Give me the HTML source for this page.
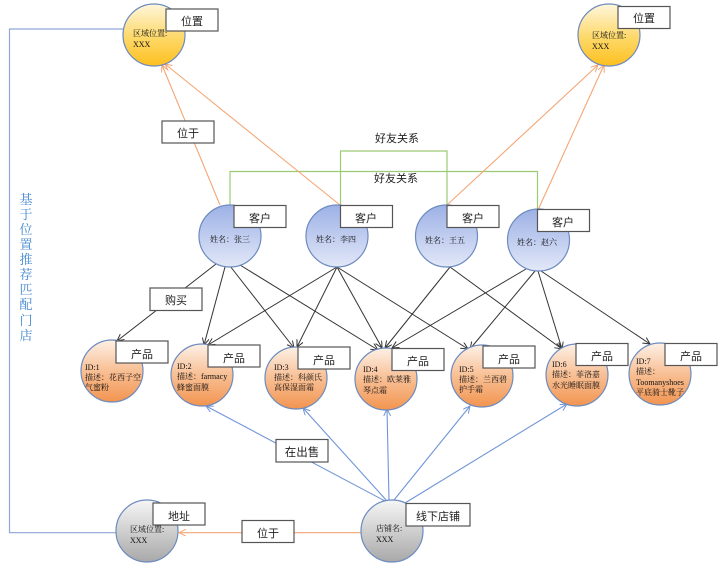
<!DOCTYPE html>
<html><head><meta charset="utf-8"><style>
html,body{margin:0;padding:0;background:#fff}
svg{display:block;filter:blur(.3px)}
text{font-family:"Liberation Serif","Noto Serif CJK SC",serif;fill:#111}
.l{font-size:11px;text-anchor:middle;font-family:"Liberation Sans","Noto Sans CJK SC",sans-serif;fill:#222}
.n{font-size:8px}
rect{fill:#fff;stroke:#555;stroke-width:1.2}
circle{stroke:#6d8bbf;stroke-width:1.2}
.k line{stroke:#333;stroke-width:1;fill:none}
.o line{stroke:#f4a675;stroke-width:1.100}
.b line{stroke:#7095d8;stroke-width:1.100}
.v{font-size:13px;text-anchor:middle;font-family:"Noto Serif CJK SC",serif;fill:#3f86cf}
</style></head><body>
<svg width="720" height="569" viewBox="0 0 720 569" xmlns="http://www.w3.org/2000/svg">
<defs>
<linearGradient id="y" x1="0" y1="0" x2="0" y2="1"><stop offset="0" stop-color="#fff6dc"/><stop offset=".55" stop-color="#fdd868"/><stop offset="1" stop-color="#fdbf1f"/></linearGradient>
<linearGradient id="u" x1="0" y1="0" x2="0" y2="1"><stop offset="0" stop-color="#9db1e6"/><stop offset="1" stop-color="#e2e8f8"/></linearGradient>
<linearGradient id="p" x1="0" y1="0" x2="0" y2="1"><stop offset="0" stop-color="#fdf0e6"/><stop offset=".5" stop-color="#f8bf94"/><stop offset="1" stop-color="#f29450"/></linearGradient>
<linearGradient id="g" x1="0" y1="0" x2="0" y2="1"><stop offset="0" stop-color="#f6f6f6"/><stop offset="1" stop-color="#a8a8a8"/></linearGradient>
<marker id="ak" markerWidth="8" markerHeight="8" refX="7" refY="3.5" orient="auto" markerUnits="userSpaceOnUse"><path d="M0 0L7 3.5L0 7" fill="none" stroke="#333" stroke-width="1"/></marker>
<marker id="ao" markerWidth="8" markerHeight="8" refX="7" refY="3.5" orient="auto" markerUnits="userSpaceOnUse"><path d="M0 0L7 3.5L0 7" fill="none" stroke="#f4a675" stroke-width="1"/></marker>
<marker id="ab" markerWidth="8" markerHeight="8" refX="7" refY="3.5" orient="auto" markerUnits="userSpaceOnUse"><path d="M0 0L7 3.5L0 7" fill="none" stroke="#7095d8" stroke-width="1"/></marker>
</defs>

<path d="M123 29H9.500V532.700H116" fill="none" stroke="#8ea8d8" stroke-width="1.200"/>
<path d="M230 205V171.500H537.500V210" fill="none" stroke="#9dcb74" stroke-width="1.200"/>
<path d="M340.500 205V151H447V205" fill="none" stroke="#9dcb74" stroke-width="1.200"/>

<g class="o">
<line x1="220" y1="205" x2="162" y2="65" marker-end="url(#ao)"/>
<line x1="340" y1="205" x2="165" y2="64" marker-end="url(#ao)"/>
<line x1="447" y1="205" x2="598" y2="65" marker-end="url(#ao)"/>
<line x1="538" y1="210" x2="604" y2="65" marker-end="url(#ao)"/>
<line x1="361" y1="532.700" x2="179" y2="532.700" stroke-width="1.600" marker-end="url(#ao)"/>
</g>

<g class="k">
<line x1="216" y1="264" x2="117" y2="341" marker-end="url(#ak)"/>
<line x1="225" y1="267" x2="204" y2="345" marker-end="url(#ak)"/>
<line x1="230" y1="266" x2="294" y2="348" marker-end="url(#ak)"/>
<line x1="240" y1="265" x2="378" y2="350" marker-end="url(#ak)"/>
<line x1="337" y1="267" x2="208" y2="345" marker-end="url(#ak)"/>
<line x1="337" y1="267" x2="297" y2="347" marker-end="url(#ak)"/>
<line x1="337" y1="267" x2="382" y2="348" marker-end="url(#ak)"/>
<line x1="337" y1="267" x2="468" y2="349" marker-end="url(#ak)"/>
<line x1="450" y1="267" x2="385" y2="348" marker-end="url(#ak)"/>
<line x1="450" y1="267" x2="562" y2="349" marker-end="url(#ak)"/>
<line x1="526" y1="269" x2="392" y2="348" marker-end="url(#ak)"/>
<line x1="535" y1="271" x2="470" y2="349" marker-end="url(#ak)"/>
<line x1="538" y1="271" x2="562" y2="349" marker-end="url(#ak)"/>
<line x1="541" y1="271" x2="650" y2="344" marker-end="url(#ak)"/>
</g>

<g class="b">
<line x1="385" y1="501" x2="206" y2="406" marker-end="url(#ab)"/>
<line x1="387" y1="501" x2="303" y2="408" marker-end="url(#ab)"/>
<line x1="389" y1="500" x2="387" y2="409" marker-end="url(#ab)"/>
<line x1="394" y1="500" x2="470" y2="406" marker-end="url(#ab)"/>
<line x1="405" y1="503" x2="567" y2="404" marker-end="url(#ab)"/>
</g>

<circle cx="154" cy="35" r="31" fill="url(#y)"/>
<circle cx="609" cy="35" r="31" fill="url(#y)"/>
<circle cx="230" cy="236" r="31" fill="url(#u)"/>
<circle cx="337" cy="236" r="31" fill="url(#u)"/>
<circle cx="446.500" cy="236" r="31" fill="url(#u)"/>
<circle cx="538.500" cy="240" r="31" fill="url(#u)"/>
<circle cx="112" cy="371" r="31" fill="url(#p)"/>
<circle cx="202" cy="375" r="31" fill="url(#p)"/>
<circle cx="296" cy="378" r="31" fill="url(#p)"/>
<circle cx="386" cy="379" r="31" fill="url(#p)"/>
<circle cx="482" cy="376" r="31" fill="url(#p)"/>
<circle cx="577" cy="375" r="31" fill="url(#p)"/>
<circle cx="660" cy="374" r="31" fill="url(#p)"/>
<circle cx="147" cy="531" r="31" fill="url(#g)"/>
<circle cx="392" cy="531" r="31" fill="url(#g)"/>

<g class="n">
<text x="133" y="36">区域位置:</text><text x="133" y="47">XXX</text>
<text x="592" y="38">区域位置:</text><text x="592" y="49">XXX</text>
<text x="210" y="242">姓名：张三</text>
<text x="316" y="242">姓名：李四</text>
<text x="425" y="243">姓名：王五</text>
<text x="517" y="245">姓名：赵六</text>
<text x="85" y="370">ID:1</text><text x="85" y="380">描述：花西子空</text><text x="85" y="390">气蜜粉</text>
<text x="177" y="369">ID:2</text><text x="177" y="379">描述：farmacy</text><text x="177" y="390">蜂蜜面膜</text>
<text x="274" y="370">ID:3</text><text x="274" y="380">描述：科颜氏</text><text x="274" y="390">高保湿面霜</text>
<text x="363" y="372">ID:4</text><text x="363" y="382">描述：欧莱雅</text><text x="363" y="393">琴点霜</text>
<text x="459" y="372">ID:5</text><text x="459" y="382">描述：兰西碧</text><text x="459" y="392">护手霜</text>
<text x="552" y="367">ID:6</text><text x="552" y="377">描述：菲洛嘉</text><text x="552" y="388">水光睡眠面膜</text>
<text x="636" y="364">ID:7</text><text x="636" y="374">描述：</text><text x="636" y="385">Toomanyshoes</text><text x="636" y="395">平底骑士靴子</text>
<text x="130" y="532">区域位置:</text><text x="130" y="543">XXX</text>
<text x="376" y="531">店铺名:</text><text x="376" y="542">XXX</text>
</g>

<rect x="166" y="9" width="52" height="22"/><text class="l" x="192" y="25">位置</text>
<rect x="618" y="6.500" width="52" height="22"/><text class="l" x="644" y="22">位置</text>
<rect x="162" y="121" width="52" height="22"/><text class="l" x="188" y="137">位于</text>
<rect x="234" y="205.500" width="52" height="22"/><text class="l" x="260" y="222">客户</text>
<rect x="340.500" y="205.500" width="52" height="22"/><text class="l" x="366" y="222">客户</text>
<rect x="447" y="205.500" width="52" height="22"/><text class="l" x="473" y="222">客户</text>
<rect x="537.500" y="209.500" width="52" height="22"/><text class="l" x="563" y="226">客户</text>
<rect x="150" y="288" width="52" height="22.500"/><text class="l" x="176" y="304">购买</text>
<rect x="116" y="341" width="52" height="22"/><text class="l" x="142" y="358">产品</text>
<rect x="208" y="345" width="52" height="22"/><text class="l" x="234" y="362">产品</text>
<rect x="298" y="347" width="52" height="22"/><text class="l" x="324" y="364">产品</text>
<rect x="392" y="348.500" width="52" height="22"/><text class="l" x="418" y="365">产品</text>
<rect x="483" y="346" width="52" height="22"/><text class="l" x="509" y="363">产品</text>
<rect x="576" y="343.500" width="52" height="22"/><text class="l" x="602" y="360">产品</text>
<rect x="665" y="343.500" width="52" height="22"/><text class="l" x="691" y="360">产品</text>
<rect x="276" y="439.500" width="52" height="22.500"/><text class="l" x="302" y="456" style="font-size:11.500px">在出售</text>
<rect x="153" y="503" width="52" height="22"/><text class="l" x="179" y="520">地址</text>
<rect x="242" y="520.500" width="52" height="22"/><text class="l" x="268" y="537">位于</text>
<rect x="406" y="503.500" width="64" height="22.500"/><text class="l" x="438" y="520">线下店铺</text>

<text class="l" x="397" y="142">好友关系</text>
<text class="l" x="396" y="182">好友关系</text>

<text class="v" x="26" y="204">基</text>
<text class="v" x="26" y="219">于</text>
<text class="v" x="26" y="234">位</text>
<text class="v" x="26" y="249">置</text>
<text class="v" x="26" y="264">推</text>
<text class="v" x="26" y="279">荐</text>
<text class="v" x="26" y="294">匹</text>
<text class="v" x="26" y="309">配</text>
<text class="v" x="26" y="325">门</text>
<text class="v" x="26" y="340">店</text>
</svg>
</body></html>
